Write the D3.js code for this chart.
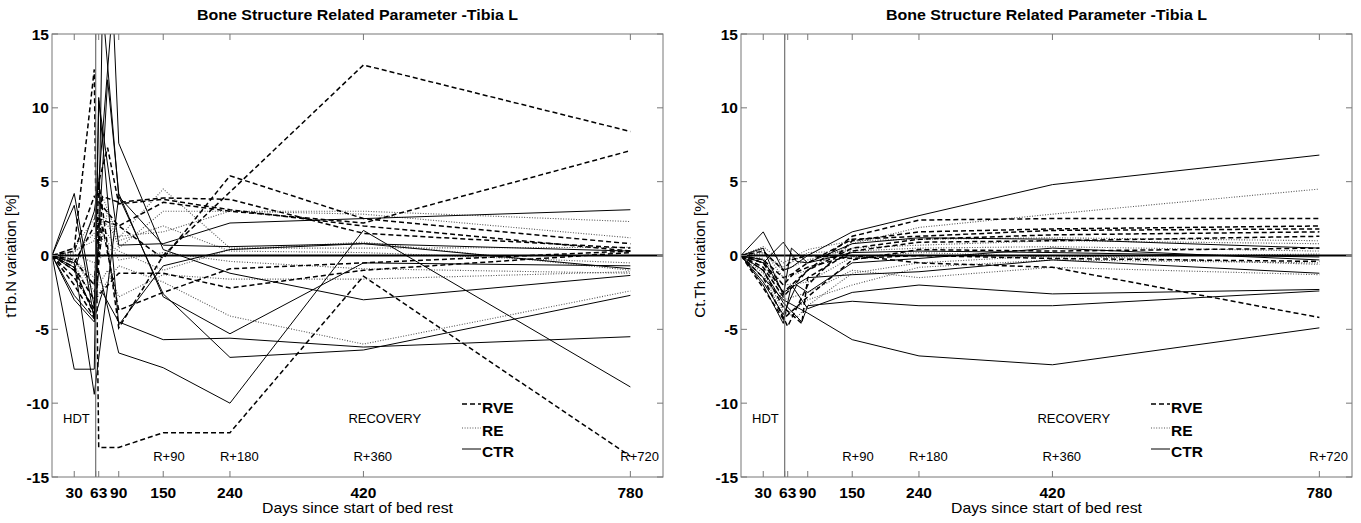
<!DOCTYPE html>
<html><head><meta charset="utf-8">
<script src="https://cdn.jsdelivr.net/npm/d3@7"></script>
<style>
html,body{margin:0;padding:0;background:#fff;}
svg{display:block;font-family:"Liberation Sans",Arial,Helvetica,sans-serif;}
</style></head>
<body><svg id="c" width="1361" height="523"></svg>
<script>
// ---- data ----
const days = [0, 30, 57, 63, 68, 75, 82, 90, 150, 240, 420, 780];
const xTicks = [30, 59, 63, 90, 150, 240, 420, 780];
const xTickLabels = [30, 63, 90, 150, 240, 420, 780];
const yTicks = [-15, -10, -5, 0, 5, 10, 15];
const phaseLabels = ["R+90", "R+180", "R+360", "R+720"];
const phaseDays = [150, 240, 420, 780];
const groups = ["RVE", "RE", "CTR"];

const tbnCTR = [
 [0, 4.2, -3.5, 1.0, 17, null, null, 4.0, 0.7, 0.6, 0.8, 0.3],
 [0, -1.0, 3.0, 5.0, null, null, 17, 7.6, 0.4, -1.2, -3.0, -1.35],
 [0, -0.8, -4.0, null, null, 11.9, null, 4.2, -2.8, -5.3, -0.5, -0.7],
 [0, -3.0, -4.5, -1.0, null, null, null, -6.6, -7.6, -10.0, 1.7, -8.9],
 [0, -7.7, -7.7, 10.5, null, null, null, 0.7, 0.8, 2.2, 2.5, 3.1],
 [0, 3.4, -4.3, 10.7, null, null, null, -4.7, -0.7, 0.4, 0.8, -0.9],
 [0, -2.7, -4.3, null, -2.5, null, null, -4.5, -5.7, -5.6, -6.2, -5.5],
 [0, -0.5, -9.4, null, null, null, null, 4.0, -2.6, -6.9, -6.4, -2.7]
];
const tbnRVE = [
 [0, 0.5, 12.6, -13.0, null, null, null, -13.0, -12.0, -12.0, -1.4, -13.6],
 [0, -1.0, -4.0, 5.0, null, null, null, -4.9, 0.0, 4.3, 12.9, 8.4],
 [0, -0.5, 2.0, 5.0, null, 7.3, null, 3.5, 3.8, 3.1, 2.0, 0.3],
 [0, -0.3, -2.0, 2.5, null, null, null, 2.0, -0.2, 5.4, 2.5, 0.8],
 [0, -2.0, -4.2, null, 4.0, null, null, 3.6, 3.9, 3.8, 1.5, 0.5],
 [0, -0.8, -3.0, null, null, null, null, -1.2, -1.2, -2.2, -1.0, 0.2],
 [0, -1.5, -3.6, null, 2.0, null, null, -3.7, -2.5, -0.9, -0.5, 0.3],
 [0, 0.3, 4.0, null, null, null, null, 2.0, 3.6, 3.0, 2.2, 7.1]
];
const tbnRE = [
 [0, 0.3, 1.0, null, 4.0, null, null, 1.2, 4.5, 0.5, 0.5, 0.55],
 [0, -0.3, -1.5, null, null, 3.0, null, 0.5, 3.0, 3.0, 3.0, 2.3],
 [0, 0.5, 2.5, null, null, null, 1.0, 1.3, 1.6, 3.0, 2.8, 1.2],
 [0, -0.6, -3.0, null, null, null, null, -0.7, -1.8, -4.1, -6.0, -2.4],
 [0, -0.2, -2.5, null, null, -1.0, null, -2.8, -1.3, -1.6, -1.6, -1.1],
 [0, 0.2, 1.5, null, null, null, null, 0.3, -1.0, 0.4, 0.9, -1.0],
 [0, -0.4, -2.0, null, 2.5, null, null, 1.0, 2.0, 0.3, 0.2, -0.5],
 [0, 0.1, -0.5, null, null, null, 0.5, -0.3, 0.2, -0.4, -0.9, -1.2]
];

const cthCTR = [
 [0, 1.6, -1.0, null, -0.8, null, null, 0.0, 1.6, 2.7, 4.8, 6.8],
 [0, -0.5, 0.9, null, null, -0.4, null, -0.5, 0.8, 1.2, 1.1, 0.5],
 [0, -1.5, -3.0, null, null, null, null, -3.9, -5.7, -6.8, -7.4, -4.9],
 [0, -2.0, -4.6, null, -2.0, null, null, -3.6, -2.5, -2.0, -2.6, -2.3],
 [0, -1.0, -3.2, null, null, null, -4.5, -3.4, -3.1, -3.4, -3.4, -2.4],
 [0, -0.3, -2.5, null, null, null, null, -1.5, -1.3, -1.1, -0.3, -1.2],
 [0, 0.5, -2.7, null, 0.5, null, null, -0.5, 0.2, 0.3, 0.2, -0.1],
 [0, -1.8, -4.0, null, null, -2.0, null, -2.5, -0.5, -0.2, 0.5, -0.3]
];
const cthRVE = [
 [0, -0.8, -2.8, null, null, null, null, -1.0, 1.3, 2.4, 2.5, 2.5],
 [0, -1.5, null, -4.8, null, null, null, -2.0, 1.0, 1.6, 1.8, 2.0],
 [0, -0.5, -2.0, null, null, -1.0, null, -0.5, 1.1, 1.3, 1.7, 1.8],
 [0, -1.0, -3.5, null, null, null, -4.6, -1.5, 0.3, 0.9, 1.0, 1.3],
 [0, -0.3, -1.5, null, null, null, null, -0.8, 0.0, -0.5, -0.8, -4.2],
 [0, 0.3, -1.0, null, -0.3, null, null, 0.0, -0.2, 0.0, -0.2, -0.4],
 [0, -2.2, -4.3, null, null, null, null, -2.8, -0.3, 0.4, 0.3, 0.5],
 [0, -0.5, -2.5, null, null, null, null, -1.0, 0.5, 1.1, 1.4, 1.6]
];
const cthRE = [
 [0, 0.4, -1.5, null, null, null, null, -1.0, 0.8, 1.9, 2.8, 4.5],
 [0, -0.5, -3.0, null, null, null, null, -2.5, -1.0, -1.5, -0.8, -1.3],
 [0, 0.2, -1.0, null, null, null, null, -0.3, 0.5, 0.7, 1.0, 0.8],
 [0, -1.0, -3.8, null, null, -4.2, null, -3.4, -1.2, -0.5, 0.0, -0.6],
 [0, 0.6, -0.5, null, null, null, null, 0.4, 1.0, 1.1, 1.2, 1.0],
 [0, -0.2, -2.0, null, null, null, null, -1.8, -0.1, 0.2, -0.1, 0.1],
 [0, -1.2, -4.2, null, null, null, null, -3.0, -2.0, -0.8, -0.3, -0.5],
 [0, 0.1, -0.8, null, null, null, null, 0.2, 0.3, 0.5, 0.6, 0.3]
];

// ---- styles ----
const styles = {
  RVE: {stroke: "#000", width: 1.5, dash: "5,3"},
  RE:  {stroke: "#555", width: 1.1, dash: "1,1.6"},
  CTR: {stroke: "#000", width: 1.0, dash: null}
};

const svg = d3.select("#c");
const title = "Bone Structure Related Parameter -Tibia L";

function panel(id, x0, x1, ylabel, series) {
  const y0 = 34, y1 = 477;
  const x = d3.scaleLinear().domain([0, 824]).range([x0, x1]);
  const y = d3.scaleLinear().domain([-15, 15]).range([y1, y0]);
  const g = svg.append("g");
  const cx = (x0 + x1) / 2;

  svg.append("defs").append("clipPath").attr("id", "clip" + id)
    .append("rect").attr("x", x0).attr("y", y0).attr("width", x1 - x0).attr("height", y1 - y0);

  // lines
  const line = d3.line().x(d => x(d[0])).y(d => y(d[1]));
  const lg = g.append("g").attr("clip-path", `url(#clip${id})`);
  // order: RE first, then CTR, then RVE
  ["RE", "CTR", "RVE"].forEach(k => {
    const st = styles[k];
    series[k].forEach(vals => {
      const pts = days.map((d, i) => [d, vals[i]]).filter(p => p[1] !== null);
      lg.append("path").attr("d", line(pts)).attr("fill", "none")
        .attr("stroke", st.stroke).attr("stroke-width", st.width)
        .attr("stroke-dasharray", st.dash).attr("stroke-linejoin", "miter");
    });
  });
  // zero line
  lg.append("line").attr("x1", x0).attr("x2", x1).attr("y1", y(0)).attr("y2", y(0))
    .attr("stroke", "#000").attr("stroke-width", 1.8);
  // vertical HDT end line
  g.append("line").attr("x1", x(59)).attr("x2", x(59)).attr("y1", y0).attr("y2", y1)
    .attr("stroke", "#555").attr("stroke-width", 1);

  // frame
  g.append("rect").attr("x", x0).attr("y", y0).attr("width", x1 - x0).attr("height", y1 - y0)
    .attr("fill", "none").attr("stroke", "#777").attr("stroke-width", 1);

  // axes (inward ticks)
  const ax = g.append("g").attr("stroke", "#777").attr("stroke-width", 1);
  xTicks.forEach(t => {
    ax.append("line").attr("x1", x(t)).attr("x2", x(t)).attr("y1", y1).attr("y2", y1 - 6);
    ax.append("line").attr("x1", x(t)).attr("x2", x(t)).attr("y1", y0).attr("y2", y0 + 6);
  });
  yTicks.forEach(t => {
    ax.append("line").attr("x1", x0).attr("x2", x0 + 6).attr("y1", y(t)).attr("y2", y(t));
    ax.append("line").attr("x1", x1).attr("x2", x1 - 6).attr("y1", y(t)).attr("y2", y(t));
  });
  g.selectAll(".xt").data(xTickLabels).enter().append("text")
    .attr("x", d => x(d)).attr("y", 498).attr("text-anchor", "middle")
    .attr("font-size", "15.5px").attr("font-weight", "bold").text(d => d);
  g.selectAll(".yt").data(yTicks).enter().append("text")
    .attr("x", x0 - 3).attr("y", d => y(d)).attr("dy", "0.36em").attr("text-anchor", "end")
    .attr("font-size", "15.5px").attr("font-weight", "bold").text(d => d);

  // titles
  g.append("text").attr("x", cx).attr("y", 19.5).attr("text-anchor", "middle")
    .attr("font-size", "14px").attr("font-weight", "bold")
    .attr("textLength", 321).attr("lengthAdjust", "spacingAndGlyphs").text(title);
  g.append("text").attr("x", cx).attr("y", 513).attr("text-anchor", "middle")
    .attr("font-size", "15px").attr("textLength", 191).attr("lengthAdjust", "spacingAndGlyphs")
    .text("Days since start of bed rest");
  g.append("text").attr("transform", `translate(${x0 - 36},256) rotate(-90)`)
    .attr("text-anchor", "middle").attr("font-size", "15px").text(ylabel);

  // annotations
  g.append("text").attr("x", x0 + 11).attr("y", 423).attr("font-size", "13px").text("HDT");
  g.append("text").attr("x", x(420) - 15).attr("y", 423).attr("font-size", "13px").text("RECOVERY");
  phaseLabels.forEach((s, i) => {
    g.append("text").attr("x", x(phaseDays[i]) - 10).attr("y", 461).attr("font-size", "13px").text(s);
  });

  // legend
  const lgx = x0 + 410, lgy = [404, 428, 449], tyy = [413, 436, 457];
  groups.forEach((k, i) => {
    const st = styles[k];
    g.append("line").attr("x1", lgx).attr("x2", lgx + 19).attr("y1", lgy[i]).attr("y2", lgy[i])
      .attr("stroke", st.stroke).attr("stroke-width", st.width).attr("stroke-dasharray", st.dash);
    g.append("text").attr("x", lgx + 20).attr("y", tyy[i]).attr("font-size", "15.5px")
      .attr("font-weight", "bold").text(k);
  });
}

panel("L", 52, 663, "tTb.N variation [%]", {RVE: tbnRVE, RE: tbnRE, CTR: tbnCTR});
panel("R", 741, 1352, "Ct.Th variation [%]", {RVE: cthRVE, RE: cthRE, CTR: cthCTR});
</script></body></html>
